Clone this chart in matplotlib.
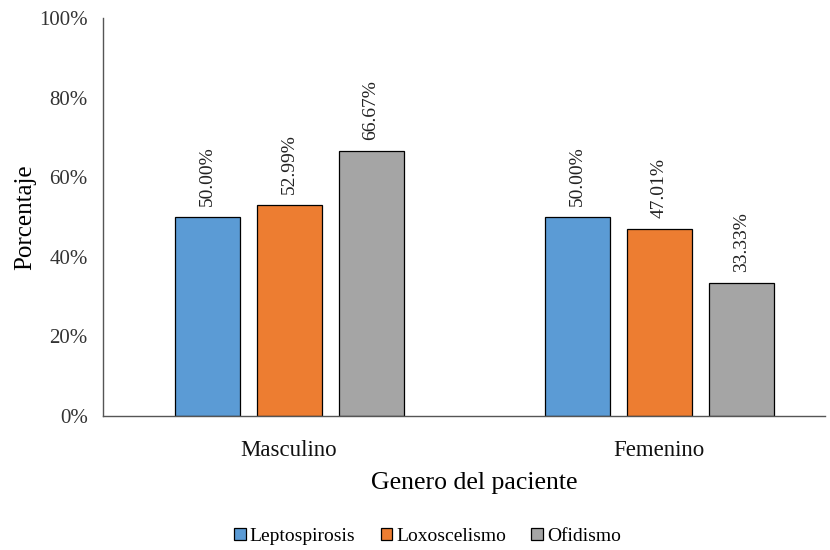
import matplotlib
matplotlib.use("Agg")
import matplotlib.pyplot as plt
import numpy as np

categories = ["Masculino", "Femenino"]
series_names = ["Leptospirosis", "Loxoscelismo", "Ofidismo"]
leptospirosis = [50.00, 50.00]
loxoscelismo = [52.99, 47.01]
ofidismo = [66.67, 33.33]
colors = ["#5B9BD5", "#ED7D31", "#A5A5A5"]
yticks = [0, 20, 40, 60, 80, 100]

plt.rcParams['font.family'] = ['Liberation Serif', 'DejaVu Serif']

fig = plt.figure(figsize=(8.3, 5.5), dpi=100)
ax = fig.add_axes([0.124, 0.2436, 0.870, 0.7234])

x = np.arange(len(categories))
width = 0.1757
step = 0.2216
for i, (name, vals, c) in enumerate(zip(series_names, [leptospirosis, loxoscelismo, ofidismo], colors)):
    pos = x + (i - 1) * step
    ax.bar(pos, vals, width=width, color=c, edgecolor="black", linewidth=0.9, label=name)
    for p, v in zip(pos, vals):
        ax.text(p, v + 2.8, f"{v:.2f}%", rotation=90, ha="center", va="bottom", fontsize=14, color="#222222")

ax.set_xlim(-0.503, 1.448)
ax.set_ylim(0, 100)
ax.set_yticks(yticks)
ax.set_yticklabels([f"{t}%" for t in yticks], fontsize=15, color="#333333")
ax.set_xticks(x)
ax.set_xticklabels(categories, fontsize=16.5, color="#111111")
ax.tick_params(axis="y", length=0, pad=11)
ax.tick_params(axis="x", length=0, pad=17)
for s in ["top", "right"]:
    ax.spines[s].set_visible(False)
for s in ["left", "bottom"]:
    ax.spines[s].set_color("#555555")
    ax.spines[s].set_linewidth(1.0)

ax.set_ylabel("Porcentaje", fontsize=18, labelpad=2)
ax.set_xlabel("Genero del paciente", fontsize=18.5, labelpad=8)
ax.xaxis.label.set_x(0.514)

leg = fig.legend(loc="lower center", bbox_to_anchor=(0.515, -0.022), ncol=3, frameon=False,
                 fontsize=14, handlelength=0.6, handleheight=0.6, handletextpad=0.2, columnspacing=1.3)

fig.savefig("out.png", dpi=100)
